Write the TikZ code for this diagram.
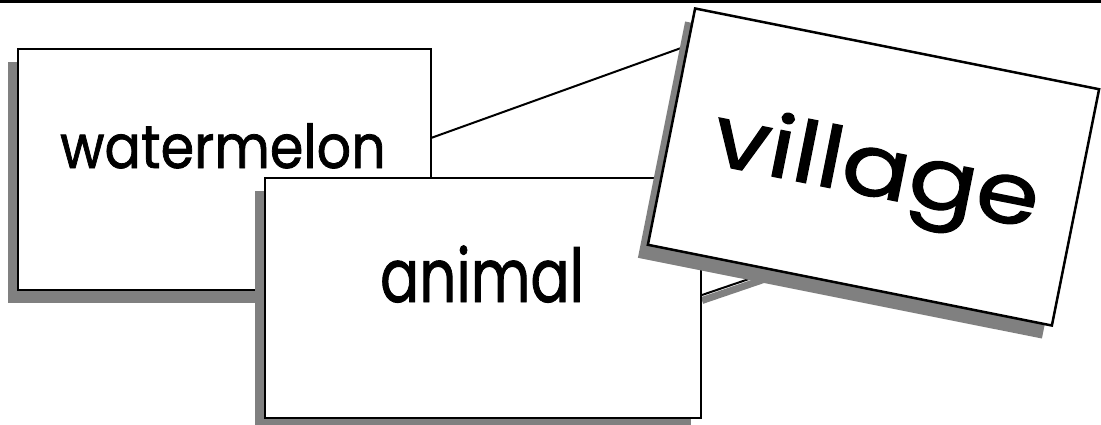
\documentclass[tikz,border=0pt]{standalone}
\usepackage{fontspec}
\setmainfont{Poppins}[FakeBold=1.3]
\definecolor{shadowgray}{RGB}{128,128,128}
\tikzset{
  card/.style={draw=black, fill=white, line width=2.5pt, inner sep=0pt},
  cardshadow/.style={fill=shadowgray, draw=none, inner sep=0pt},
  link/.style={draw=black, line width=2pt},
  linkshadow/.style={draw=shadowgray, line width=7pt},
  word/.style={inner sep=0pt, anchor=base}
}
\begin{document}
\begin{tikzpicture}[x=1pt, y=-1pt]
  \useasboundingbox (0,0) rectangle (1101,425);
  % rule across the top
  \fill[black] (0,0) rectangle (1101,2.6);

  % connector end points hidden behind the tilted card
  \coordinate (wEnd) at (431,138);
  \coordinate (vIn1) at (720,34);
  \coordinate (aEnd) at (702,295);
  \coordinate (vIn2) at (790,265);
  \coordinate (aEndS) at (702,300.5);
  \coordinate (vIn2S) at (790,270.5);

  % connectors
  \draw[link] (wEnd) -- (vIn1);
  \draw[linkshadow] (aEndS) -- (vIn2S);
  \draw[link] (aEnd) -- (vIn2);

  % watermelon card
  \node[cardshadow, minimum width=413pt, minimum height=241pt] (wS) at (214.5,182.5) {};
  \node[card, minimum width=413pt, minimum height=241pt] (w) at (224.5,169.5) {};
  \node[word] (wT) at (223,168) {\scalebox{1}[1.12]{\fontsize{54}{64}\selectfont watermelon}};

  % animal card
  \node[cardshadow, minimum width=436pt, minimum height=240pt] (aS) at (473,311) {};
  \node[card, minimum width=436pt, minimum height=240pt] (a) at (483,298) {};
  \node[word] (aT) at (482,302) {\scalebox{1}[1.28]{\fontsize{58}{70}\selectfont animal}};

  % village card, tilted
  \node[cardshadow, rotate=-11.3, minimum width=412pt, minimum height=241pt] (vS) at (863.5,180) {};
  \node[card, rotate=-11.3, minimum width=412pt, minimum height=241pt] (v) at (873.5,167) {};
  \node[word, rotate=-11.3] (vT) at (871,196) {\scalebox{1.1}[0.93]{\fontsize{92}{110}\selectfont village}};
\end{tikzpicture}
\end{document}
